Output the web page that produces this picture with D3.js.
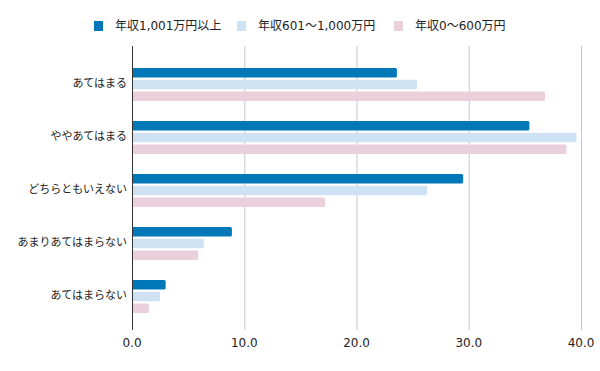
<!DOCTYPE html>
<html>
<head>
<meta charset="utf-8">
<script src="https://cdn.jsdelivr.net/npm/d3@7"></script>
<style>
  body { margin: 0; background: #fff; }
  text { font-family: "DejaVu Sans", "Noto Sans CJK JP", sans-serif; fill: #222; }
</style>
</head>
<body>
<div id="grafico"></div>
<script>
const WIDTH = 600;
const HEIGHT = 371;

const categories = ["あてはまる", "ややあてはまる", "どちらともいえない", "あまりあてはまらない", "あてはまらない"];
const seriesNames = ["年収1,001万円以上", "年収601～1,000万円", "年収0～600万円"];
const seriesColors = ["#0078b7", "#cfe2f3", "#e9d0db"];
const high = [23.6, 35.4, 29.5, 8.9, 3.0];
const mid = [25.4, 39.6, 26.3, 6.4, 2.5];
const low = [36.8, 38.7, 17.2, 5.9, 1.5];
const ticks = [0, 10, 20, 30, 40];

const seriesValues = [high, mid, low];

let svg = d3.select("#grafico")
    .append("svg")
    .attr("width", WIDTH)
    .attr("height", HEIGHT);

let x = d3.scaleLinear()
    .domain([0, 40])
    .range([132, 581]);

let y = d3.scaleBand()
    .domain(categories)
    .range([57, 322]);

let inner = d3.scaleBand()
    .domain(d3.range(seriesNames.length))
    .range([11, 44])
    .paddingInner(0.18);

// gridlines
svg.append("g")
    .selectAll("line")
    .data(ticks.slice(1))
    .enter()
    .append("line")
    .attr("x1", d => x(d) + 0.5)
    .attr("x2", d => x(d) + 0.5)
    .attr("y1", 46)
    .attr("y2", 330)
    .style("stroke", "#c8c8c8")
    .style("stroke-width", 1);

// bars
let groups = svg.append("g")
    .selectAll("g")
    .data(categories)
    .enter()
    .append("g")
    .attr("transform", d => `translate(0,${y(d)})`);

groups.selectAll("rect")
    .data((d, i) => seriesValues.map((s, j) => ({ v: s[i], j: j })))
    .enter()
    .append("rect")
    .attr("x", x(0))
    .attr("y", d => inner(d.j))
    .attr("width", d => x(d.v) - x(0))
    .attr("height", inner.bandwidth())
    .attr("rx", 1.5)
    .style("fill", d => seriesColors[d.j]);

// left axis line
svg.append("line")
    .attr("x1", x(0) + 0.5)
    .attr("x2", x(0) + 0.5)
    .attr("y1", 46)
    .attr("y2", 330)
    .style("stroke", "#333")
    .style("stroke-width", 1);

// category labels
svg.append("g")
    .selectAll("text")
    .data(categories)
    .enter()
    .append("text")
    .attr("x", 127)
    .attr("y", d => y(d) + y.bandwidth() / 2)
    .attr("dy", "0.35em")
    .attr("text-anchor", "end")
    .style("font-size", "11px")
    .text(d => d);

// tick labels
svg.append("g")
    .selectAll("text")
    .data(ticks)
    .enter()
    .append("text")
    .attr("x", d => x(d))
    .attr("y", 343)
    .attr("dy", "0.35em")
    .attr("text-anchor", "middle")
    .style("font-size", "12px")
    .text(d => d3.format(".1f")(d));

// legend
const legendX = [94, 237, 394];
let legend = svg.append("g")
    .selectAll("g")
    .data(seriesNames)
    .enter()
    .append("g")
    .attr("transform", (d, i) => `translate(${legendX[i]},21)`);

legend.append("rect")
    .attr("width", 9)
    .attr("height", 10)
    .style("fill", (d, i) => seriesColors[i]);

legend.append("text")
    .attr("x", 21)
    .attr("y", 5)
    .attr("dy", "0.35em")
    .style("font-size", "12px")
    .text(d => d);
</script>
</body>
</html>
